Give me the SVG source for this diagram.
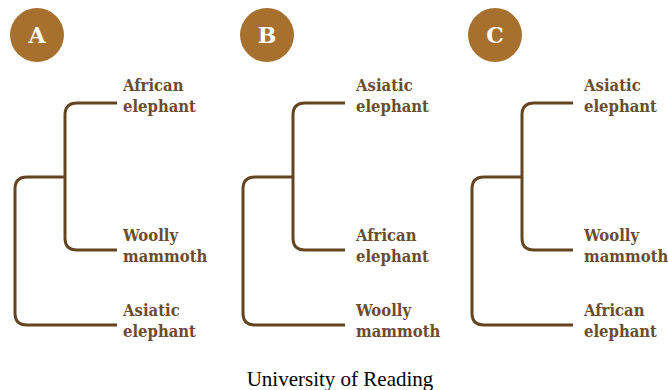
<svg xmlns="http://www.w3.org/2000/svg" width="668" height="390" viewBox="0 0 668 390">
<style>
.badge{fill:#A8702E}
.bl{fill:#fff;font-family:"DejaVu Serif",serif;font-weight:bold;font-size:22px;text-anchor:middle}
.br{fill:none;stroke:#654521;stroke-width:3;stroke-linecap:butt}
.lb{fill:#6B4C2E;font-family:"DejaVu Serif Condensed","DejaVu Serif",serif;font-stretch:condensed;font-weight:bold;font-size:16.5px}
.cap{fill:#000;font-family:"Liberation Serif",serif;font-size:21px;text-anchor:middle}
</style>
<rect width="668" height="390" fill="#fff"/>
<g id="badge-A"><circle class="badge" cx="37" cy="35" r="27"/><text class="bl" x="37" y="43">A</text></g>
<g id="badge-B"><circle class="badge" cx="267" cy="35" r="27"/><text class="bl" x="267" y="43">B</text></g>
<g id="badge-C"><circle class="badge" cx="495" cy="35" r="27"/><text class="bl" x="495" y="43">C</text></g>
<g id="connectors">
<path class="br" d="M117,103 H77 Q65,103 65,115 V238 Q65,250 77,250 H117"/>
<path class="br" d="M65,177 H27 Q15,177 15,189 V313 Q15,325 27,325 H117"/>
<path class="br" d="M345,103 H305 Q293,103 293,115 V238 Q293,250 305,250 H345"/>
<path class="br" d="M293,177 H255 Q243,177 243,189 V313 Q243,325 255,325 H345"/>
<path class="br" d="M573,103 H534 Q522,103 522,115 V238 Q522,250 534,250 H573"/>
<path class="br" d="M522,177 H484 Q472,177 472,189 V313 Q472,325 484,325 H573"/>
</g>
<g id="A-african"><text class="lb" x="123" y="91">African</text><text class="lb" x="123" y="112">elephant</text></g>
<g id="A-woolly"><text class="lb" x="123" y="241">Woolly</text><text class="lb" x="123" y="262">mammoth</text></g>
<g id="A-asiatic"><text class="lb" x="123" y="316">Asiatic</text><text class="lb" x="123" y="337">elephant</text></g>
<g id="B-asiatic"><text class="lb" x="356" y="91">Asiatic</text><text class="lb" x="356" y="112">elephant</text></g>
<g id="B-african"><text class="lb" x="356" y="241">African</text><text class="lb" x="356" y="262">elephant</text></g>
<g id="B-woolly"><text class="lb" x="356" y="316">Woolly</text><text class="lb" x="356" y="337">mammoth</text></g>
<g id="C-asiatic"><text class="lb" x="584" y="91">Asiatic</text><text class="lb" x="584" y="112">elephant</text></g>
<g id="C-woolly"><text class="lb" x="584" y="241">Woolly</text><text class="lb" x="584" y="262">mammoth</text></g>
<g id="C-african"><text class="lb" x="584" y="316">African</text><text class="lb" x="584" y="337">elephant</text></g>
<text class="cap" x="340" y="386">University of Reading</text>
</svg>
